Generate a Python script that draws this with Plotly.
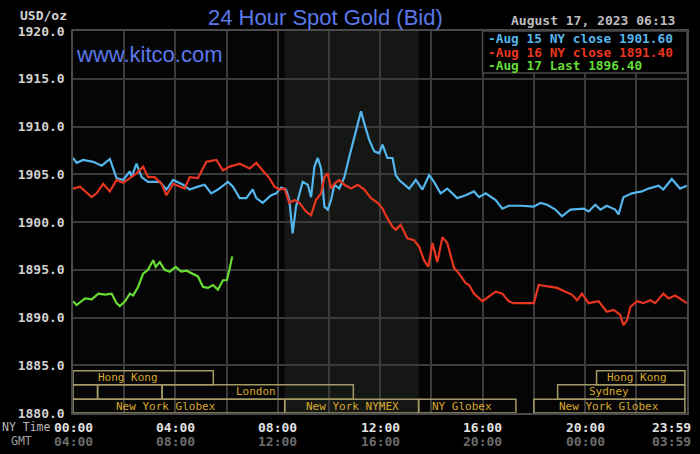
import plotly.graph_objects as go

# ---------------- data ----------------
# hours after midnight (NY time)
aug15_t = [0.0, 0.14, 0.40, 0.79, 1.12, 1.44, 1.70, 1.96, 2.22, 2.29, 2.48, 2.68, 2.93, 3.39, 3.65, 3.91,
           4.30, 4.56, 4.88, 5.14, 5.40, 5.66, 6.05, 6.25, 6.51, 6.77, 7.02, 7.16, 7.41, 7.74, 7.94, 8.13,
           8.32, 8.45, 8.58, 8.71, 8.97, 9.17, 9.30, 9.43, 9.56, 9.69, 9.82, 9.95, 10.08, 10.21, 10.40,
           10.60, 10.79, 10.99, 11.12, 11.25, 11.38, 11.57, 11.77, 11.96, 12.09, 12.28, 12.48, 12.61,
           12.74, 13.13, 13.39, 13.65, 13.91, 14.10, 14.36, 14.62, 15.01, 15.34, 15.66, 15.86, 16.12,
           16.51, 16.77, 17.02, 17.5, 18.0, 18.26, 18.52, 18.84, 19.10, 19.43, 19.95, 20.14, 20.40,
           20.60, 20.85, 21.18, 21.31, 21.50, 21.83, 22.22, 22.48, 22.87, 23.06, 23.39, 23.71, 23.98]
aug15_p = [1906.7, 1906.2, 1906.5, 1906.3, 1905.9, 1906.6, 1904.6, 1904.4, 1905.3, 1904.7, 1906.1, 1904.7,
           1904.2, 1904.2, 1903.4, 1904.4, 1903.9, 1903.4, 1903.7, 1903.9, 1903.0, 1903.4, 1904.2, 1903.7,
           1902.5, 1902.5, 1903.4, 1902.5, 1902.0, 1902.8, 1903.0, 1903.6, 1903.4, 1902.3, 1898.8, 1901.6,
           1904.2, 1903.9, 1902.6, 1905.8, 1906.7, 1905.6, 1901.6, 1901.3, 1902.3, 1903.9, 1903.5, 1904.7,
           1906.8, 1908.9, 1910.2, 1911.6, 1910.3, 1908.6, 1907.4, 1907.2, 1908.1, 1906.7, 1906.7, 1904.9,
           1904.4, 1903.5, 1904.4, 1903.4, 1904.9, 1904.2, 1903.0, 1903.5, 1902.5, 1902.8, 1903.2, 1902.6,
           1903.0, 1902.3, 1901.4, 1901.7, 1901.7, 1901.6, 1902.0, 1901.8, 1901.3, 1900.6, 1901.3, 1901.4,
           1901.1, 1901.8, 1901.3, 1901.7, 1901.3, 1900.8, 1902.6, 1903.0, 1903.2, 1903.5, 1903.8, 1903.4,
           1904.5, 1903.5, 1903.8]

aug16_t = [0.0, 0.27, 0.73, 0.92, 1.18, 1.44, 1.70, 1.96, 2.22, 2.48, 2.74, 2.93, 3.19, 3.46, 3.65, 3.91,
           4.36, 4.56, 4.88, 5.21, 5.60, 5.86, 6.12, 6.51, 6.90, 7.16, 7.41, 7.67, 7.87, 8.06, 8.26, 8.45,
           8.65, 8.84, 9.10, 9.30, 9.49, 9.69, 9.82, 9.95, 10.08, 10.21, 10.40, 10.60, 10.86, 11.12, 11.38,
           11.64, 11.90, 12.09, 12.28, 12.48, 12.61, 12.80, 13.06, 13.32, 13.52, 13.71, 13.88, 14.04, 14.23,
           14.43, 14.62, 14.88, 15.08, 15.34, 15.47, 15.66, 15.99, 16.25, 16.51, 16.77, 17.02, 17.22, 18.0,
           18.19, 18.58, 18.91, 19.23, 19.49, 19.69, 19.88, 20.14, 20.53, 20.85, 21.12, 21.37, 21.50, 21.64,
           21.77, 22.03, 22.28, 22.54, 22.74, 23.06, 23.26, 23.52, 23.78, 23.98]
aug16_p = [1903.5, 1903.7, 1902.6, 1903.0, 1904.0, 1903.2, 1904.4, 1904.1, 1904.6, 1905.1, 1905.8, 1904.7,
           1904.7, 1904.0, 1902.8, 1904.0, 1903.5, 1904.7, 1904.6, 1906.3, 1906.5, 1905.4, 1905.8, 1906.1,
           1905.6, 1906.2, 1905.4, 1904.6, 1903.7, 1903.4, 1903.5, 1902.0, 1902.3, 1902.0, 1901.1, 1900.7,
           1902.3, 1903.0, 1904.7, 1905.1, 1903.5, 1904.0, 1904.4, 1903.9, 1903.5, 1903.9, 1903.4, 1902.5,
           1902.0, 1901.4, 1900.4, 1899.5, 1899.2, 1899.7, 1898.3, 1898.1, 1897.4, 1896.0, 1895.3, 1897.8,
           1895.8, 1898.4, 1897.8, 1895.2, 1894.6, 1893.6, 1893.4, 1892.5, 1891.7, 1892.2, 1892.7, 1892.5,
           1891.7, 1891.5, 1891.5, 1893.4, 1893.2, 1893.1, 1892.7, 1892.4, 1891.8, 1892.5, 1891.5, 1891.7,
           1890.6, 1890.8, 1890.3, 1889.2, 1889.7, 1891.1, 1891.7, 1891.5, 1891.8, 1891.5, 1892.5, 1892.0,
           1892.3, 1891.8, 1891.5]

aug17_t = [0.0, 0.14, 0.47, 0.73, 0.99, 1.25, 1.51, 1.70, 1.83, 2.03, 2.22, 2.35, 2.54, 2.74, 2.93, 3.13,
           3.23, 3.39, 3.58, 3.78, 4.01, 4.23, 4.43, 4.69, 4.88, 5.08, 5.27, 5.47, 5.66, 5.86, 6.01, 6.09, 6.22]
aug17_p = [1891.7, 1891.3, 1892.0, 1891.9, 1892.5, 1892.4, 1892.5, 1891.5, 1891.2, 1891.7, 1892.5, 1892.3,
           1893.2, 1894.6, 1895.0, 1896.0, 1895.3, 1895.8, 1895.0, 1894.8, 1895.3, 1894.8, 1894.9, 1894.6,
           1894.3, 1893.2, 1893.1, 1893.4, 1892.9, 1893.9, 1893.9, 1894.8, 1896.4]

series_names = ["Aug 15 NY close", "Aug 16 NY close", "Aug 17 Last"]
series_values = [1901.60, 1891.40, 1896.40]
series_colors = ["#55b6ee", "#e8351f", "#66dc35"]

ny_tick_labels = ["00:00", "04:00", "08:00", "12:00", "16:00", "20:00", "23:59"]
gmt_tick_labels = ["04:00", "08:00", "12:00", "16:00", "20:00", "00:00", "03:59"]
tick_hours = [0, 4, 8, 12, 16, 20, 23.983]

# trading sessions: name, start hour, end hour, row (0 = bottom), label hour
session_names = ["Hong Kong", "", "", "London", "New York Globex", "New York NYMEX", "NY Globex",
                 "New York Globex", "Sydney", "Hong Kong"]
session_start = [0.0, 0.0, 0.96, 3.48, 0.0, 8.27, 13.5, 18.0, 18.93, 20.45]
session_end = [5.48, 0.96, 3.48, 10.95, 8.27, 13.5, 17.3, 23.9, 23.9, 23.9]
session_row = [2, 1, 1, 1, 0, 0, 0, 0, 1, 2]
session_label_x = [2.14, 0, 0, 7.16, 3.65, 10.9, 15.18, 20.95, 20.95, 22.02]
row_bounds = [(1880.0, 1881.45), (1881.45, 1882.97), (1882.97, 1884.43)]

nymex_open, nymex_close = 8.27, 13.5
date_text = "August 17, 2023 06:13"

# ---------------- figure ----------------
MONO = "DejaVu Sans Mono"
fig = go.Figure()
for t, p, name, col in zip([aug15_t, aug16_t, aug17_t], [aug15_p, aug16_p, aug17_p],
                           series_names, series_colors):
    fig.add_trace(go.Scatter(x=t, y=p, mode="lines", name=name,
                             line=dict(color=col, width=2.2), showlegend=False, hoverinfo="skip"))

shapes = []
# NYMEX shaded session
shapes.append(dict(type="rect", xref="x", yref="paper", x0=nymex_open, x1=nymex_close, y0=0, y1=1,
                   fillcolor="#141714", line=dict(width=0), layer="below"))
# session boxes
annotations = []
for name, s, e, r, lx in zip(session_names, session_start, session_end, session_row, session_label_x):
    y0, y1 = row_bounds[r]
    shapes.append(dict(type="rect", xref="x", yref="y", x0=s, x1=e, y0=y0, y1=y1,
                       line=dict(color="#a39a66", width=1.5), fillcolor="rgba(0,0,0,0)", layer="above"))
    if name:
        annotations.append(dict(text=name, xref="x", yref="y", x=lx, y=(y0 + y1) / 2,
                                showarrow=False, xanchor="center", yanchor="middle",
                                font=dict(family=MONO, size=11, color="#d9a82c")))
# legend box
shapes.append(dict(type="rect", xref="paper", yref="paper", x0=0.667, x1=1.0, y0=0.89, y1=1.0,
                   fillcolor="#000000", line=dict(color="#4a4a4a", width=1.5), layer="above"))

# legend texts
for i, (name, val, col) in enumerate(zip(series_names, series_values, series_colors)):
    annotations.append(dict(text=f"-{name} {val:.2f}", xref="paper", yref="paper", x=0.674, y=1,
                            xanchor="left", yanchor="middle", yshift=-7.5 - 13.7 * i, showarrow=False,
                            borderpad=0,
                            font=dict(family=MONO, size=12.8, color=col, weight="bold")))

# x tick labels (two lines)
for h, ny, gmt in zip(tick_hours, ny_tick_labels, gmt_tick_labels):
    anchor = "right" if h > 23 else "center"
    shift = 6 if h > 23 else 0
    annotations.append(dict(text=ny, xref="x", yref="paper", x=h, y=0, xanchor=anchor, yanchor="middle",
                            yshift=-14, xshift=shift, showarrow=False,
                            font=dict(family=MONO, size=13, color="#e2e2e2", weight="bold")))
    annotations.append(dict(text=gmt, xref="x", yref="paper", x=h, y=0, xanchor=anchor, yanchor="middle",
                            yshift=-28, xshift=shift, showarrow=False,
                            font=dict(family=MONO, size=13, color="#6c6c6c", weight="bold")))
annotations.append(dict(text="NY Time", xref="paper", yref="paper", x=0, y=0, xanchor="left",
                        yanchor="middle", xshift=-72, yshift=-14, showarrow=False, borderpad=0,
                        font=dict(family=MONO, size=11.5, color="#b8b8b8")))
annotations.append(dict(text="GMT", xref="paper", yref="paper", x=0, y=0, xanchor="center",
                        yanchor="middle", xshift=-52, yshift=-28, showarrow=False,
                        font=dict(family=MONO, size=11.5, color="#a0a0a0")))

# headers
annotations.append(dict(text="24 Hour Spot Gold (Bid)", xref="paper", yref="paper", x=0.412, y=1,
                        xanchor="center", yanchor="middle", yshift=14, showarrow=False,
                        font=dict(family="Liberation Sans", size=22, color="#5a78ea")))
annotations.append(dict(text="www.kitco.com", xref="paper", yref="paper", x=0, y=1,
                        xanchor="left", yanchor="middle", yshift=-23, xshift=1, showarrow=False,
                        font=dict(family="Liberation Sans", size=22, color="#5a78ea")))
annotations.append(dict(text="USD/oz", xref="paper", yref="paper", x=0, y=1,
                        xanchor="right", yanchor="middle", yshift=16, xshift=-4, showarrow=False,
                        font=dict(family=MONO, size=13, color="#d2d2d2", weight="bold")))
annotations.append(dict(text=date_text, xref="paper", yref="paper", x=1, y=1,
                        xanchor="right", yanchor="middle", yshift=11, xshift=-10, showarrow=False,
                        font=dict(family=MONO, size=13, color="#bdbdbd", weight="bold")))

fig.update_layout(
    width=700, height=454, autosize=False,
    margin=dict(l=73, r=11, t=31, b=41, pad=0),
    paper_bgcolor="#000000", plot_bgcolor="#050505",
    shapes=shapes, annotations=annotations,
    xaxis=dict(range=[0, 23.983], tick0=0, dtick=2, showgrid=True, gridcolor="#3b3b3b", gridwidth=1.5,
               showticklabels=False, zeroline=False, showline=True, linecolor="#4a4a4a", linewidth=1.5,
               mirror=True, ticks=""),
    yaxis=dict(range=[1880, 1920], tick0=1880, dtick=5, tickformat=".1f", showgrid=True,
               gridcolor="#3b3b3b", gridwidth=1.5, zeroline=False, showline=True, linecolor="#4a4a4a",
               linewidth=1.5, mirror=True, ticks="", ticklabelstandoff=4,
               tickfont=dict(family=MONO, size=13, color="#d2d2d2", weight="bold")),
)

fig.write_html("out.html", config={"displayModeBar": False},
               post_script="document.body.style.margin='0';document.body.style.background='#000';")
